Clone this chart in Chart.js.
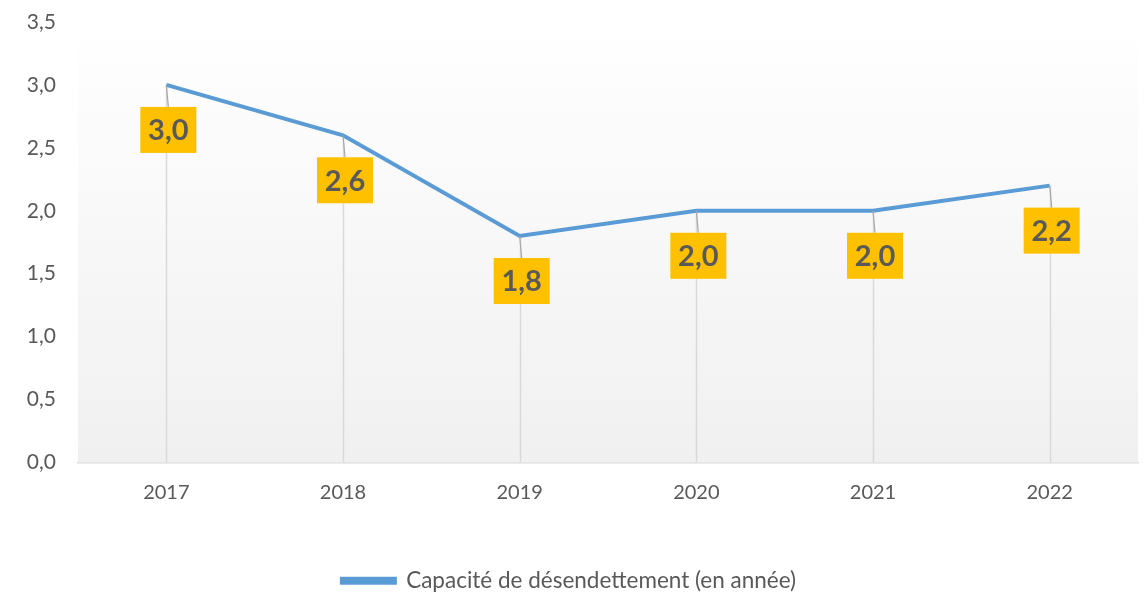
<!DOCTYPE html>
<html>
<head>
<meta charset="utf-8">
<script src="https://cdn.jsdelivr.net/npm/chart.js@4"></script>
<style>
  html, body { margin: 0; padding: 0; background: #fff; }
  #wrap { width: 1145px; height: 595px; }
</style>
</head>
<body>
<div id="wrap"><canvas id="line-chart"></canvas></div>
<script>
var years = ['2017', '2018', '2019', '2020', '2021', '2022'];
var capacite = [3.0, 2.6, 1.8, 2.0, 2.0, 2.2];
var seriesName = 'Capacité de désendettement (en année)';

function fr(v) { return v.toFixed(1).replace('.', ','); }

// fond dégradé + lignes de projection
var fondPlugin = {
  id: 'fond',
  beforeDatasetsDraw: function (chart) {
    var ctx = chart.ctx, a = chart.chartArea;
    var g = ctx.createLinearGradient(0, a.top, 0, a.bottom);
    g.addColorStop(0, '#ffffff');
    g.addColorStop(1, '#f0f0f0');
    ctx.save();
    ctx.fillStyle = g;
    ctx.fillRect(a.left, a.top, a.right - a.left, a.bottom - a.top);
    var pts = chart.getDatasetMeta(0).data;
    ctx.strokeStyle = '#d9d9d9';
    ctx.lineWidth = 1.5;
    pts.forEach(function (p) {
      ctx.beginPath();
      ctx.moveTo(Math.round(p.x) + 0.5, p.y);
      ctx.lineTo(Math.round(p.x) + 0.5, a.bottom);
      ctx.stroke();
    });
    ctx.restore();
  }
};

// étiquettes jaunes
var etiquettes = {
  id: 'etiquettes',
  afterDatasetsDraw: function (chart) {
    var ctx = chart.ctx;
    var pts = chart.getDatasetMeta(0).data;
    var vals = chart.data.datasets[0].data;
    ctx.save();
    pts.forEach(function (p, i) {
      var cx = p.x + 2, cy = p.y + 45;
      var w = 56, h = 46;
      ctx.strokeStyle = '#a6a6a6';
      ctx.lineWidth = 1.2;
      ctx.beginPath();
      ctx.moveTo(p.x, p.y);
      ctx.lineTo(cx, cy - h / 2);
      ctx.stroke();
      ctx.fillStyle = '#ffc000';
      ctx.fillRect(cx - w / 2, cy - h / 2, w, h);
      ctx.fillStyle = '#595959';
      ctx.font = 'bold 29px Lato';
      ctx.textAlign = 'center';
      ctx.textBaseline = 'middle';
      ctx.fillText(fr(vals[i]), cx, cy + 1);
    });
    ctx.restore();
  }
};

new Chart(document.getElementById('line-chart'), {
  type: 'line',
  data: {
    labels: years,
    datasets: [{
      label: seriesName,
      data: capacite,
      borderColor: '#5b9bd5',
      backgroundColor: '#5b9bd5',
      borderWidth: 4,
      pointRadius: 0,
      tension: 0,
      fill: false
    }]
  },
  options: {
    responsive: true,
    maintainAspectRatio: false,
    animation: false,
    layout: { autoPadding: false, padding: { top: 22, right: 7, bottom: -7, left: 0 } },
    plugins: {
      tooltip: { enabled: false },
      legend: {
        position: 'bottom',
        labels: {
          color: '#595959',
          font: { family: 'Lato', size: 22.5, lineHeight: 1 },
          boxWidth: 53,
          boxHeight: 4,
          padding: 1
        }
      }
    },
    scales: {
      x: {
        offset: true,
        grid: { display: false, drawTicks: false },
        border: { color: '#d9d9d9', width: 1.5 },
        ticks: { color: '#595959', font: { family: 'Lato', size: 20 }, padding: 18 },
        afterFit: function (s) { s.height = 106; }
      },
      y: {
        min: 0,
        max: 3.5,
        grid: { display: false, drawTicks: false },
        border: { display: false },
        ticks: {
          stepSize: 0.5,
          color: '#595959',
          font: { family: 'Lato', size: 21 },
          padding: 22,
          callback: function (v) { return fr(v); }
        },
        afterFit: function (s) { s.width = 78; s.paddingTop = 0; s.paddingBottom = 0; }
      }
    }
  },
  plugins: [fondPlugin, etiquettes]
});
</script>
</body>
</html>
